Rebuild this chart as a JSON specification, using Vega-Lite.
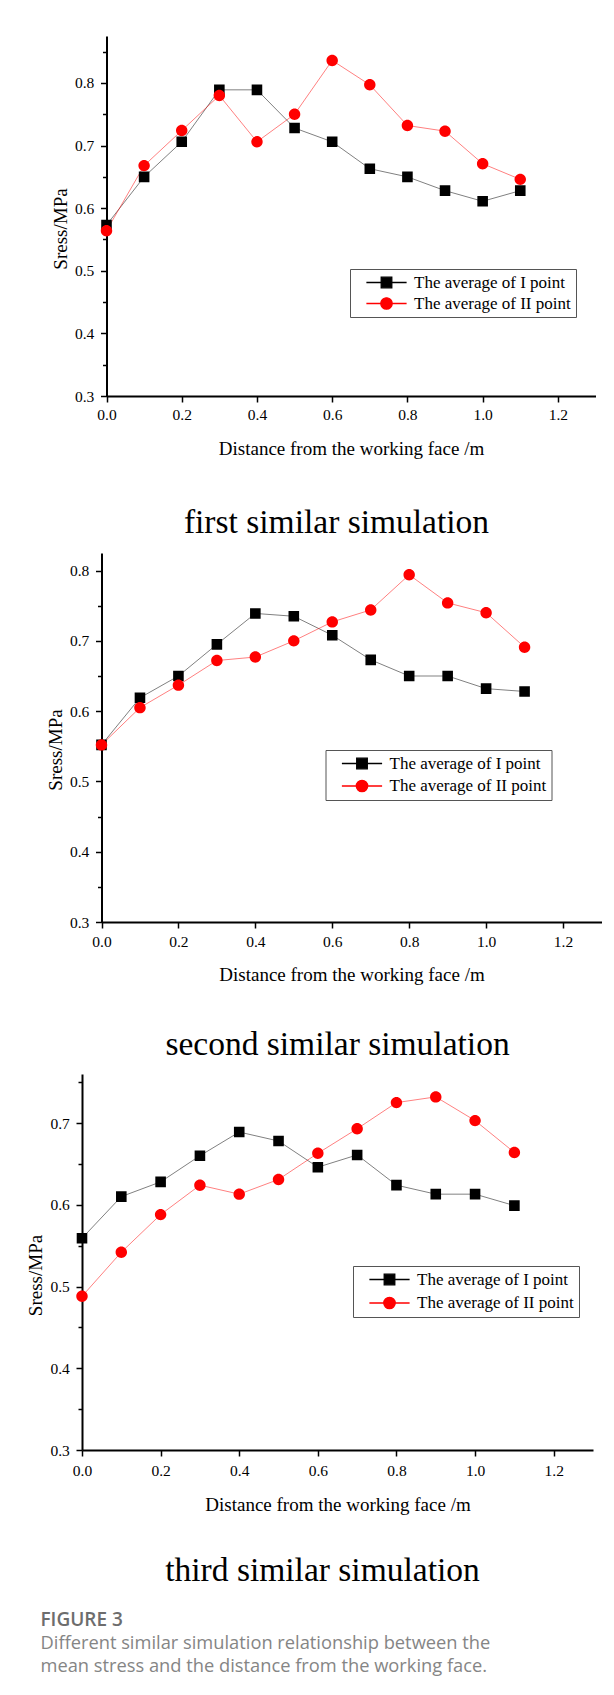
{
  "$schema": "https://vega.github.io/schema/vega-lite/v6.json",
  "padding": {"left": 0, "top": 36, "right": 6, "bottom": 12},
  "background": "#ffffff",
  "config": {
    "view": {"stroke": null},
    "font": "Liberation Serif"
  },
  "title": {
    "text": "FIGURE 3",
    "subtitle": ["Different similar simulation relationship between the", "mean stress and the distance from the working face."],
    "orient": "bottom",
    "anchor": "start",
    "frame": "bounds",
    "dx": 40,
    "offset": 38.5,
    "baseline": "alphabetic",
    "font": "Open Sans",
    "fontSize": 19,
    "fontWeight": 600,
    "color": "#6d6d6d",
    "subtitleFont": "Open Sans",
    "subtitleFontSize": 18.3,
    "subtitleColor": "#858585",
    "subtitleLineHeight": 23,
    "subtitlePadding": 4
  },
  "datasets": {
    "first": [
      {"distance": 0.0, "stress": 0.573, "series": "The average of I point"},
      {"distance": 0.1, "stress": 0.650, "series": "The average of I point"},
      {"distance": 0.2, "stress": 0.706, "series": "The average of I point"},
      {"distance": 0.3, "stress": 0.789, "series": "The average of I point"},
      {"distance": 0.4, "stress": 0.789, "series": "The average of I point"},
      {"distance": 0.5, "stress": 0.728, "series": "The average of I point"},
      {"distance": 0.6, "stress": 0.706, "series": "The average of I point"},
      {"distance": 0.7, "stress": 0.663, "series": "The average of I point"},
      {"distance": 0.8, "stress": 0.650, "series": "The average of I point"},
      {"distance": 0.9, "stress": 0.628, "series": "The average of I point"},
      {"distance": 1.0, "stress": 0.611, "series": "The average of I point"},
      {"distance": 1.1, "stress": 0.628, "series": "The average of I point"},
      {"distance": 0.0, "stress": 0.564, "series": "The average of II point"},
      {"distance": 0.1, "stress": 0.668, "series": "The average of II point"},
      {"distance": 0.2, "stress": 0.724, "series": "The average of II point"},
      {"distance": 0.3, "stress": 0.780, "series": "The average of II point"},
      {"distance": 0.4, "stress": 0.706, "series": "The average of II point"},
      {"distance": 0.5, "stress": 0.750, "series": "The average of II point"},
      {"distance": 0.6, "stress": 0.836, "series": "The average of II point"},
      {"distance": 0.7, "stress": 0.797, "series": "The average of II point"},
      {"distance": 0.8, "stress": 0.732, "series": "The average of II point"},
      {"distance": 0.9, "stress": 0.723, "series": "The average of II point"},
      {"distance": 1.0, "stress": 0.671, "series": "The average of II point"},
      {"distance": 1.1, "stress": 0.646, "series": "The average of II point"}
    ],
    "second": [
      {"distance": 0.0, "stress": 0.552, "series": "The average of I point"},
      {"distance": 0.1, "stress": 0.619, "series": "The average of I point"},
      {"distance": 0.2, "stress": 0.650, "series": "The average of I point"},
      {"distance": 0.3, "stress": 0.695, "series": "The average of I point"},
      {"distance": 0.4, "stress": 0.739, "series": "The average of I point"},
      {"distance": 0.5, "stress": 0.735, "series": "The average of I point"},
      {"distance": 0.6, "stress": 0.708, "series": "The average of I point"},
      {"distance": 0.7, "stress": 0.673, "series": "The average of I point"},
      {"distance": 0.8, "stress": 0.650, "series": "The average of I point"},
      {"distance": 0.9, "stress": 0.650, "series": "The average of I point"},
      {"distance": 1.0, "stress": 0.632, "series": "The average of I point"},
      {"distance": 1.1, "stress": 0.628, "series": "The average of I point"},
      {"distance": 0.0, "stress": 0.552, "series": "The average of II point"},
      {"distance": 0.1, "stress": 0.605, "series": "The average of II point"},
      {"distance": 0.2, "stress": 0.637, "series": "The average of II point"},
      {"distance": 0.3, "stress": 0.672, "series": "The average of II point"},
      {"distance": 0.4, "stress": 0.677, "series": "The average of II point"},
      {"distance": 0.5, "stress": 0.700, "series": "The average of II point"},
      {"distance": 0.6, "stress": 0.727, "series": "The average of II point"},
      {"distance": 0.7, "stress": 0.744, "series": "The average of II point"},
      {"distance": 0.8, "stress": 0.794, "series": "The average of II point"},
      {"distance": 0.9, "stress": 0.754, "series": "The average of II point"},
      {"distance": 1.0, "stress": 0.740, "series": "The average of II point"},
      {"distance": 1.1, "stress": 0.691, "series": "The average of II point"}
    ],
    "third": [
      {"distance": 0.0, "stress": 0.559, "series": "The average of I point"},
      {"distance": 0.1, "stress": 0.610, "series": "The average of I point"},
      {"distance": 0.2, "stress": 0.628, "series": "The average of I point"},
      {"distance": 0.3, "stress": 0.660, "series": "The average of I point"},
      {"distance": 0.4, "stress": 0.689, "series": "The average of I point"},
      {"distance": 0.5, "stress": 0.678, "series": "The average of I point"},
      {"distance": 0.6, "stress": 0.646, "series": "The average of I point"},
      {"distance": 0.7, "stress": 0.661, "series": "The average of I point"},
      {"distance": 0.8, "stress": 0.624, "series": "The average of I point"},
      {"distance": 0.9, "stress": 0.613, "series": "The average of I point"},
      {"distance": 1.0, "stress": 0.613, "series": "The average of I point"},
      {"distance": 1.1, "stress": 0.599, "series": "The average of I point"},
      {"distance": 0.0, "stress": 0.488, "series": "The average of II point"},
      {"distance": 0.1, "stress": 0.542, "series": "The average of II point"},
      {"distance": 0.2, "stress": 0.588, "series": "The average of II point"},
      {"distance": 0.3, "stress": 0.624, "series": "The average of II point"},
      {"distance": 0.4, "stress": 0.613, "series": "The average of II point"},
      {"distance": 0.5, "stress": 0.631, "series": "The average of II point"},
      {"distance": 0.6, "stress": 0.663, "series": "The average of II point"},
      {"distance": 0.7, "stress": 0.693, "series": "The average of II point"},
      {"distance": 0.8, "stress": 0.725, "series": "The average of II point"},
      {"distance": 0.9, "stress": 0.732, "series": "The average of II point"},
      {"distance": 1.0, "stress": 0.703, "series": "The average of II point"},
      {"distance": 1.1, "stress": 0.664, "series": "The average of II point"}
    ]
  },
  "concat": [
    {
      "data": {"name": "first"},
      "width": 513.5,
      "height": 360,
      "title": {"text": "first similar simulation", "orient": "bottom", "anchor": "middle", "frame": "group", "dx": -2.25, "offset": 75, "baseline": "alphabetic", "font": "Liberation Serif", "fontSize": 33.5, "fontWeight": "normal", "color": "#000000"},
      "resolve": {"axis": {"y": "independent"}},
      "layer": [
        {
          "mark": {"type": "line", "strokeWidth": 0.5},
          "encoding": {
            "x": {"field": "distance", "type": "quantitative", "scale": {"domain": [0, 1.3], "range": [24.5, 513.5], "nice": false, "zero": false},
              "axis": {"values": [0, 0.1, 0.2, 0.3, 0.4, 0.5, 0.6, 0.7, 0.8, 0.9, 1.0, 1.1, 1.2, 1.3], "labelExpr": "abs(datum.value*5 - round(datum.value*5)) < 0.001 ? format(datum.value, '.1f') : ''", "labelOverlap": false, "labelFlush": false, "grid": false, "domainColor": "#000000", "domainWidth": 2, "tickColor": "#000000", "tickWidth": 1.5, "tickSize": {"condition": {"test": "abs(datum.value*5 - round(datum.value*5)) < 0.001", "value": 6}, "value": 4}, "labelFont": "Liberation Serif", "labelFontSize": 15.5, "labelColor": "#000000", "labelBaseline": "alphabetic", "labelPadding": 17.7, "title": "Distance from the working face /m", "titleFont": "Liberation Serif", "titleFontSize": 19, "titleFontWeight": "normal", "titleColor": "#000000", "titleX": 269, "titleY": 58, "titleBaseline": "alphabetic", "titleAlign": "center"}},
            "y": {"field": "stress", "type": "quantitative", "scale": {"domain": [0.3, 0.875], "nice": false, "zero": false},
              "axis": {"offset": -24.5, "values": [0.3, 0.35, 0.4, 0.45, 0.5, 0.55, 0.6, 0.65, 0.7, 0.75, 0.8, 0.85], "labelExpr": "abs(datum.value*10 - round(datum.value*10)) < 0.001 ? format(datum.value, '.1f') : ''", "labelOverlap": false, "labelFlush": false, "grid": false, "domainColor": "#000000", "domainWidth": 2, "tickColor": "#000000", "tickWidth": 1.5, "tickSize": {"condition": {"test": "abs(datum.value*10 - round(datum.value*10)) < 0.001", "value": 6}, "value": 4}, "labelFont": "Liberation Serif", "labelFontSize": 15.5, "labelColor": "#000000", "labelPadding": 6.7, "title": "Sress/MPa", "titleFont": "Liberation Serif", "titleFontSize": 19, "titleFontWeight": "normal", "titleColor": "#000000", "titleX": -40, "titleY": 192.5, "titleBaseline": "alphabetic", "titleAlign": "center", "titleAngle": -90}},
            "color": {"field": "series", "type": "nominal", "scale": {"domain": ["The average of I point", "The average of II point"], "range": ["#000000", "#ff0000"]},
              "legend": {"title": null, "orient": "none", "legendX": 268, "legendY": 233, "direction": "vertical", "strokeColor": "#555555", "fillColor": "#ffffff", "padding": 5, "rowPadding": 3, "symbolSize": 112, "symbolStrokeWidth": 1.3, "symbolOffset": 23, "labelOffset": 19, "labelFont": "Liberation Serif", "labelFontSize": 17, "labelColor": "#000000", "labelLimit": 300}}
          }
        },
        {
          "mark": {"type": "point", "filled": true, "size": 112, "opacity": 1},
          "encoding": {
            "x": {"field": "distance", "type": "quantitative"},
            "y": {"field": "stress", "type": "quantitative", "axis": {"orient": "left", "offset": 81.5, "domainOpacity": 0, "ticks": false, "labels": false, "grid": false, "title": null, "minExtent": 0}},
            "color": {"field": "series", "type": "nominal",
              "legend": {"title": null, "orient": "none", "legendX": 268, "legendY": 233, "direction": "vertical", "strokeColor": "#555555", "fillColor": "#ffffff", "padding": 5, "rowPadding": 3, "symbolSize": 112, "symbolStrokeWidth": 1.3, "symbolOffset": 23, "labelOffset": 19, "labelFont": "Liberation Serif", "labelFontSize": 17, "labelColor": "#000000", "labelLimit": 300}},
            "shape": {"field": "series", "type": "nominal", "scale": {"domain": ["The average of I point", "The average of II point"], "range": ["M-3.8,0H3.8M-1,-1H1V1H-1Z", "M-3.8,0H3.8M1.08,0A1.08,1.08,0,1,1,-1.08,0A1.08,1.08,0,1,1,1.08,0Z"]},
              "legend": {"title": null, "orient": "none", "legendX": 268, "legendY": 233, "direction": "vertical", "strokeColor": "#555555", "fillColor": "#ffffff", "padding": 5, "rowPadding": 3, "symbolSize": 112, "symbolStrokeWidth": 1.3, "symbolOffset": 23, "labelOffset": 19, "labelFont": "Liberation Serif", "labelFontSize": 17, "labelColor": "#000000", "labelLimit": 300}}
          }
        }
      ]
    },
    {
      "data": {"name": "second"},
      "width": 519.5,
      "height": 369,
      "title": {"text": "second similar simulation", "orient": "bottom", "anchor": "middle", "frame": "group", "dx": -4.25, "offset": 70, "baseline": "alphabetic", "font": "Liberation Serif", "fontSize": 33.5, "fontWeight": "normal", "color": "#000000"},
      "resolve": {"axis": {"y": "independent"}},
      "layer": [
        {
          "mark": {"type": "line", "strokeWidth": 0.5},
          "encoding": {
            "x": {"field": "distance", "type": "quantitative", "scale": {"domain": [0, 1.3], "range": [19.5, 519.5], "nice": false, "zero": false},
              "axis": {"values": [0, 0.1, 0.2, 0.3, 0.4, 0.5, 0.6, 0.7, 0.8, 0.9, 1.0, 1.1, 1.2, 1.3], "labelExpr": "abs(datum.value*5 - round(datum.value*5)) < 0.001 ? format(datum.value, '.1f') : ''", "labelOverlap": false, "labelFlush": false, "grid": false, "domainColor": "#000000", "domainWidth": 2, "tickColor": "#000000", "tickWidth": 1.5, "tickSize": {"condition": {"test": "abs(datum.value*5 - round(datum.value*5)) < 0.001", "value": 6}, "value": 4}, "labelFont": "Liberation Serif", "labelFontSize": 15.5, "labelColor": "#000000", "labelBaseline": "alphabetic", "labelPadding": 18.3, "title": "Distance from the working face /m", "titleFont": "Liberation Serif", "titleFontSize": 19, "titleFontWeight": "normal", "titleColor": "#000000", "titleX": 269.5, "titleY": 58.5, "titleBaseline": "alphabetic", "titleAlign": "center"}},
            "y": {"field": "stress", "type": "quantitative", "scale": {"domain": [0.3, 0.825], "nice": false, "zero": false},
              "axis": {"offset": -19.5, "values": [0.3, 0.35, 0.4, 0.45, 0.5, 0.55, 0.6, 0.65, 0.7, 0.75, 0.8], "labelExpr": "abs(datum.value*10 - round(datum.value*10)) < 0.001 ? format(datum.value, '.1f') : ''", "labelOverlap": false, "labelFlush": false, "grid": false, "domainColor": "#000000", "domainWidth": 2, "tickColor": "#000000", "tickWidth": 1.5, "tickSize": {"condition": {"test": "abs(datum.value*10 - round(datum.value*10)) < 0.001", "value": 6}, "value": 4}, "labelFont": "Liberation Serif", "labelFontSize": 15.5, "labelColor": "#000000", "labelPadding": 6.7, "title": "Sress/MPa", "titleFont": "Liberation Serif", "titleFontSize": 19, "titleFontWeight": "normal", "titleColor": "#000000", "titleX": -40.3, "titleY": 196.5, "titleBaseline": "alphabetic", "titleAlign": "center", "titleAngle": -90}},
            "color": {"field": "series", "type": "nominal", "scale": {"domain": ["The average of I point", "The average of II point"], "range": ["#000000", "#ff0000"]},
              "legend": {"title": null, "orient": "none", "legendX": 243.5, "legendY": 197, "direction": "vertical", "strokeColor": "#555555", "fillColor": "#ffffff", "padding": 5, "rowPadding": 4.5, "symbolSize": 112, "symbolStrokeWidth": 1.3, "symbolOffset": 23, "labelOffset": 19, "labelFont": "Liberation Serif", "labelFontSize": 17, "labelColor": "#000000", "labelLimit": 300}}
          }
        },
        {
          "mark": {"type": "point", "filled": true, "size": 112, "opacity": 1},
          "encoding": {
            "x": {"field": "distance", "type": "quantitative"},
            "y": {"field": "stress", "type": "quantitative", "axis": {"orient": "left", "offset": 81.5, "domainOpacity": 0, "ticks": false, "labels": false, "grid": false, "title": null, "minExtent": 0}},
            "color": {"field": "series", "type": "nominal",
              "legend": {"title": null, "orient": "none", "legendX": 243.5, "legendY": 197, "direction": "vertical", "strokeColor": "#555555", "fillColor": "#ffffff", "padding": 5, "rowPadding": 4.5, "symbolSize": 112, "symbolStrokeWidth": 1.3, "symbolOffset": 23, "labelOffset": 19, "labelFont": "Liberation Serif", "labelFontSize": 17, "labelColor": "#000000", "labelLimit": 300}},
            "shape": {"field": "series", "type": "nominal", "scale": {"domain": ["The average of I point", "The average of II point"], "range": ["M-3.8,0H3.8M-1,-1H1V1H-1Z", "M-3.8,0H3.8M1.08,0A1.08,1.08,0,1,1,-1.08,0A1.08,1.08,0,1,1,1.08,0Z"]},
              "legend": {"title": null, "orient": "none", "legendX": 243.5, "legendY": 197, "direction": "vertical", "strokeColor": "#555555", "fillColor": "#ffffff", "padding": 5, "rowPadding": 4.5, "symbolSize": 112, "symbolStrokeWidth": 1.3, "symbolOffset": 23, "labelOffset": 19, "labelFont": "Liberation Serif", "labelFontSize": 17, "labelColor": "#000000", "labelLimit": 300}}
          }
        }
      ]
    },
    {
      "data": {"name": "third"},
      "width": 511,
      "height": 376,
      "title": {"text": "third similar simulation", "orient": "bottom", "anchor": "middle", "frame": "group", "dx": -15, "offset": 66.5, "baseline": "alphabetic", "font": "Liberation Serif", "fontSize": 33.5, "fontWeight": "normal", "color": "#000000"},
      "resolve": {"axis": {"y": "independent"}},
      "layer": [
        {
          "mark": {"type": "line", "strokeWidth": 0.5},
          "encoding": {
            "x": {"field": "distance", "type": "quantitative", "scale": {"domain": [0, 1.3], "nice": false, "zero": false},
              "axis": {"values": [0, 0.1, 0.2, 0.3, 0.4, 0.5, 0.6, 0.7, 0.8, 0.9, 1.0, 1.1, 1.2, 1.3], "labelExpr": "abs(datum.value*5 - round(datum.value*5)) < 0.001 ? format(datum.value, '.1f') : ''", "labelOverlap": false, "labelFlush": false, "grid": false, "domainColor": "#000000", "domainWidth": 2, "tickColor": "#000000", "tickWidth": 1.5, "tickSize": {"condition": {"test": "abs(datum.value*5 - round(datum.value*5)) < 0.001", "value": 6}, "value": 4}, "labelFont": "Liberation Serif", "labelFontSize": 15.5, "labelColor": "#000000", "labelBaseline": "alphabetic", "labelPadding": 19.7, "title": "Distance from the working face /m", "titleFont": "Liberation Serif", "titleFontSize": 19, "titleFontWeight": "normal", "titleColor": "#000000", "titleX": 255.5, "titleY": 60.7, "titleBaseline": "alphabetic", "titleAlign": "center"}},
            "y": {"field": "stress", "type": "quantitative", "scale": {"domain": [0.3, 0.76], "nice": false, "zero": false},
              "axis": {"values": [0.3, 0.35, 0.4, 0.45, 0.5, 0.55, 0.6, 0.65, 0.7, 0.75], "labelExpr": "abs(datum.value*10 - round(datum.value*10)) < 0.001 ? format(datum.value, '.1f') : ''", "labelOverlap": false, "labelFlush": false, "grid": false, "domainColor": "#000000", "domainWidth": 2, "tickColor": "#000000", "tickWidth": 1.5, "tickSize": {"condition": {"test": "abs(datum.value*10 - round(datum.value*10)) < 0.001", "value": 6}, "value": 4}, "labelFont": "Liberation Serif", "labelFontSize": 15.5, "labelColor": "#000000", "labelPadding": 6.7, "title": "Sress/MPa", "titleFont": "Liberation Serif", "titleFontSize": 19, "titleFontWeight": "normal", "titleColor": "#000000", "titleX": -40.8, "titleY": 201, "titleBaseline": "alphabetic", "titleAlign": "center", "titleAngle": -90}},
            "color": {"field": "series", "type": "nominal", "scale": {"domain": ["The average of I point", "The average of II point"], "range": ["#000000", "#ff0000"]},
              "legend": {"title": null, "orient": "none", "legendX": 271, "legendY": 192, "direction": "vertical", "strokeColor": "#555555", "fillColor": "#ffffff", "padding": 5, "rowPadding": 5.5, "symbolSize": 112, "symbolStrokeWidth": 1.3, "symbolOffset": 23, "labelOffset": 19, "labelFont": "Liberation Serif", "labelFontSize": 17, "labelColor": "#000000", "labelLimit": 300}}
          }
        },
        {
          "mark": {"type": "point", "filled": true, "size": 112, "opacity": 1},
          "encoding": {
            "x": {"field": "distance", "type": "quantitative"},
            "y": {"field": "stress", "type": "quantitative", "axis": {"orient": "left", "offset": 81.5, "domainOpacity": 0, "ticks": false, "labels": false, "grid": false, "title": null, "minExtent": 0}},
            "color": {"field": "series", "type": "nominal",
              "legend": {"title": null, "orient": "none", "legendX": 271, "legendY": 192, "direction": "vertical", "strokeColor": "#555555", "fillColor": "#ffffff", "padding": 5, "rowPadding": 5.5, "symbolSize": 112, "symbolStrokeWidth": 1.3, "symbolOffset": 23, "labelOffset": 19, "labelFont": "Liberation Serif", "labelFontSize": 17, "labelColor": "#000000", "labelLimit": 300}},
            "shape": {"field": "series", "type": "nominal", "scale": {"domain": ["The average of I point", "The average of II point"], "range": ["M-3.8,0H3.8M-1,-1H1V1H-1Z", "M-3.8,0H3.8M1.08,0A1.08,1.08,0,1,1,-1.08,0A1.08,1.08,0,1,1,1.08,0Z"]},
              "legend": {"title": null, "orient": "none", "legendX": 271, "legendY": 192, "direction": "vertical", "strokeColor": "#555555", "fillColor": "#ffffff", "padding": 5, "rowPadding": 5.5, "symbolSize": 112, "symbolStrokeWidth": 1.3, "symbolOffset": 23, "labelOffset": 19, "labelFont": "Liberation Serif", "labelFontSize": 17, "labelColor": "#000000", "labelLimit": 300}}
          }
        }
      ]
    }
  ],
  "columns": 1,
  "spacing": 13,
  "resolve": {"scale": {"color": "independent", "shape": "independent"}}
}
